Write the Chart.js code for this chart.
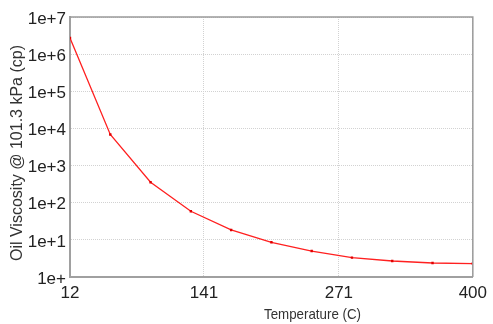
<!DOCTYPE html>
<html>
<head>
<meta charset="utf-8">
<script src="https://cdn.jsdelivr.net/npm/chart.js@4/dist/chart.umd.min.js"></script>
<style>
  html, body { margin: 0; padding: 0; background: #fff; }
  #wrap { width: 493px; height: 324px; }
</style>
</head>
<body>
<div id="wrap"><canvas id="chart1"></canvas></div>
<script>
const temperatures = [12, 50.8, 89.6, 128.4, 167.2, 206, 244.8, 283.6, 322.4, 361.2, 400];
const viscosity = [2.72e6, 6890, 357, 59, 18.5, 8.6, 5.0, 3.33, 2.7, 2.38, 2.3];
const xTicks = [12, 141, 271, 400];
const yTicks = [1, 10, 100, 1000, 1e4, 1e5, 1e6, 1e7];
const yTickLabels = ["1e+", "1e+1", "1e+2", "1e+3", "1e+4", "1e+5", "1e+6", "1e+7"];
const xTitle = "Temperature (C)";
const yTitle = "Oil Viscosity @ 101.3 kPa (cp)";

// frame on top/right + axis titles (placed like the original, x title is off-centre)
const framePlugin = {
  id: "frame",
  afterDraw(chart) {
    const { ctx, chartArea: a } = chart;
    ctx.save();
    ctx.strokeStyle = "#9a9a9a";
    ctx.lineWidth = 1.5;
    ctx.beginPath();
    ctx.moveTo(a.left, a.top);
    ctx.lineTo(a.right, a.top);
    ctx.lineTo(a.right, a.bottom);
    ctx.stroke();

    ctx.fillStyle = "#333";
    ctx.font = "15px 'Liberation Sans', Arial, sans-serif";
    ctx.textAlign = "center";
    ctx.textBaseline = "alphabetic";
    ctx.fillText(xTitle, 312.5, 319, 97);

    ctx.translate(22, (a.top + a.bottom) / 2 + 6);
    ctx.rotate(-Math.PI / 2);
    ctx.font = "16px 'Liberation Sans', Arial, sans-serif";
    ctx.fillText(yTitle, 0, 0);
    ctx.restore();
  },
};

document.addEventListener("DOMContentLoaded", () => {
  new Chart(document.getElementById("chart1"), {
    type: "line",
    data: {
      datasets: [
        {
          data: temperatures.map((t, i) => ({ x: t, y: viscosity[i] })),
          borderColor: "#ff2020",
          borderWidth: 1.3,
          backgroundColor: "#e00000",
          pointStyle: "rect",
          pointRadius: 1.7,
          pointBorderWidth: 0,
          tension: 0,
        },
      ],
    },
    options: {
      responsive: true,
      maintainAspectRatio: false,
      animation: false,
      events: [],
      layout: { padding: { top: 17, right: 15, left: 0, bottom: 0 } },
      plugins: { legend: { display: false }, tooltip: { enabled: false } },
      scales: {
        x: {
          type: "linear",
          min: 12,
          max: 400,
          afterBuildTicks: (s) => { s.ticks = xTicks.map((v) => ({ value: v })); },
          afterFit: (s) => { s.height = 47; },
          ticks: {
            padding: 6,
            maxRotation: 0,
            color: "#222",
            font: { family: "'Liberation Sans', Arial", size: 17 },
            callback: (v) => String(v),
          },
          grid: { color: "#d2d2d2", drawTicks: false },
          border: { color: "#a0a0a0", width: 2, dash: [1, 1] },
        },
        y: {
          type: "logarithmic",
          min: 1,
          max: 1e7,
          afterBuildTicks: (s) => { s.ticks = yTicks.map((v) => ({ value: v })); },
          afterFit: (s) => { s.width = 70; },
          ticks: {
            padding: 4,
            labelOffset: 2,
            color: "#222",
            font: { family: "'Liberation Sans', Arial", size: 17 },
            callback: (v) => yTickLabels[yTicks.indexOf(v)],
          },
          grid: { color: "#d2d2d2", drawTicks: false },
          border: { color: "#a0a0a0", width: 2, dash: [1, 1] },
        },
      },
    },
    plugins: [framePlugin],
  });
});
</script>
</body>
</html>
